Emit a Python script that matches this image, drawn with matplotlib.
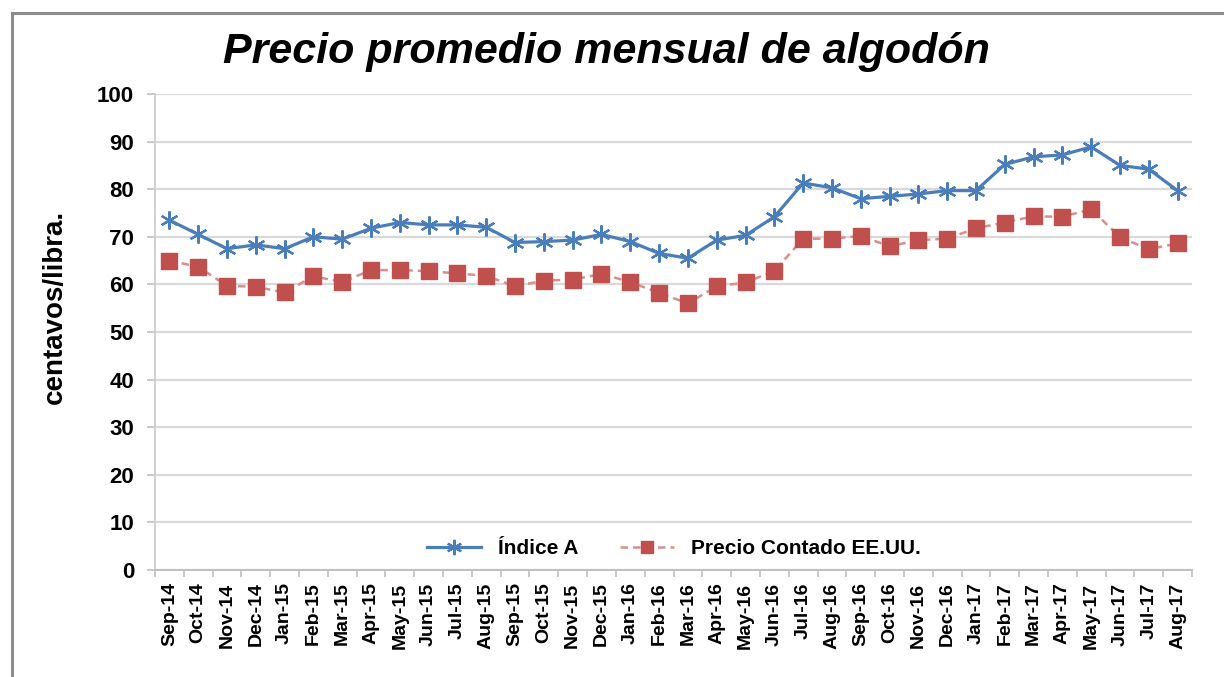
import numpy as np
import matplotlib
matplotlib.use("Agg")
import matplotlib.pyplot as plt
from matplotlib.patches import Rectangle

plt.rcParams['font.family'] = ['Liberation Sans', 'DejaVu Sans']

# --- datos (centavos/libra) ---
meses = ["Sep-14", "Oct-14", "Nov-14", "Dec-14", "Jan-15", "Feb-15", "Mar-15", "Apr-15",
         "May-15", "Jun-15", "Jul-15", "Aug-15", "Sep-15", "Oct-15", "Nov-15", "Dec-15",
         "Jan-16", "Feb-16", "Mar-16", "Apr-16", "May-16", "Jun-16", "Jul-16", "Aug-16",
         "Sep-16", "Oct-16", "Nov-16", "Dec-16", "Jan-17", "Feb-17", "Mar-17", "Apr-17",
         "May-17", "Jun-17", "Jul-17", "Aug-17"]
indice_a = [73.5, 70.5, 67.5, 68.3, 67.5, 70.0, 69.5, 71.8, 73.0, 72.5, 72.5, 72.0,
            68.8, 69.0, 69.3, 70.5, 69.0, 66.5, 65.5, 69.3, 70.3, 74.2, 81.3, 80.3,
            78.0, 78.5, 79.0, 79.7, 79.7, 85.2, 86.8, 87.2, 88.9, 85.0, 84.2, 79.7]
contado_eeuu = [65.0, 63.7, 59.7, 59.5, 58.3, 61.7, 60.5, 63.0, 63.0, 62.8, 62.3, 61.8,
                59.6, 60.8, 61.0, 62.2, 60.5, 58.2, 56.0, 59.6, 60.4, 62.8, 69.6, 69.6,
                70.2, 68.0, 69.3, 69.6, 71.8, 73.0, 74.3, 74.2, 75.8, 69.9, 67.4, 68.6]

W, H = 1224, 677
fig = plt.figure(figsize=(W / 100, H / 100), dpi=100)
ax = fig.add_axes([155 / W, 1 - 570 / H, (1192 - 155) / W, (570 - 94) / H])

x = np.arange(len(meses))
ax.plot(x, indice_a, '-', color='#4A7EBB', lw=2.3, marker=(6, 2, 0), ms=13, mew=1.6,
        label='Índice A', zorder=4)
ax.plot(x, contado_eeuu, '--', color='#D98E8C', lw=1.8, dashes=(3, 2),
        marker='s', ms=11, mfc='#C0504D', mec='#C0504D',
        label='Precio Contado EE.UU.', zorder=3)

ax.set_xlim(-0.5, len(meses) - 0.5)
ax.set_ylim(0, 100)
ax.set_yticks(range(0, 101, 10))
ax.set_xticks(x)
ax.set_xticklabels(meses, rotation=90, fontsize=14, fontweight='bold')
ax.set_xticks(np.arange(-0.5, len(meses)), minor=True)
ax.tick_params(axis='x', which='major', length=0, pad=9)
ax.tick_params(axis='x', which='minor', length=5, color='#BFBFBF', width=1.2)
ax.tick_params(axis='y', length=6, color='#BFBFBF', width=1.2, pad=9, labelsize=16)
for lb in ax.get_yticklabels():
    lb.set_fontweight('bold')
ax.grid(axis='y', color='#D9D9D9', lw=1.6)
ax.set_axisbelow(True)
for s in ('top', 'right'):
    ax.spines[s].set_visible(False)
ax.spines['left'].set_color('#D0D0D0')
ax.spines['bottom'].set_color('#BFBFBF')
ax.spines['left'].set_linewidth(1.4)
ax.spines['bottom'].set_linewidth(1.4)

leg = ax.legend(loc='lower center', bbox_to_anchor=(0.5, -0.015), ncol=2, frameon=True,
                fancybox=False, edgecolor='none', facecolor='white', framealpha=1,
                prop={'weight': 'bold', 'size': 15}, handlelength=2.6, columnspacing=2.0,
                markerscale=0.85)
leg.set_zorder(5)

fig.text(606 / W, 1 - 63 / H, 'Precio promedio mensual de algodón', ha='center',
         va='baseline', fontsize=31, fontweight='bold', fontstyle='italic')
fig.text(55 / W, 1 - 307 / H, 'centavos/libra.', rotation=90, ha='center', va='center',
         fontsize=20, fontweight='bold')

fig.patches.append(Rectangle((12 / W, -0.1), 1.2, 1 - 13 / H + 0.1, transform=fig.transFigure,
                             fill=False, edgecolor='#8C8C8C', lw=2.2))

fig.savefig('out.png', dpi=100)
